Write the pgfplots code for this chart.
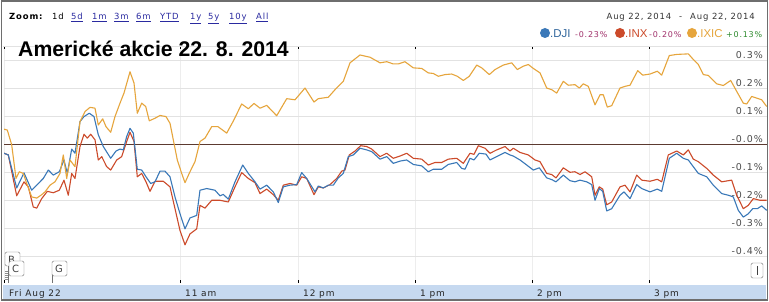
\documentclass[border=0pt]{standalone}
\usepackage{fontspec}
\setmainfont{DejaVu Sans}
\newfontfamily\lblfont[LetterSpace=10]{DejaVu Sans}
\newfontfamily\titlefont{Liberation Sans}
\newfontfamily\legfont{Liberation Sans}
\usepackage{pgfplots}
\pgfplotsset{compat=1.18}
\usepackage{pgfplotstable}
\definecolor{dji}{HTML}{3A78B8}
\definecolor{inx}{HTML}{CC4A2A}
\definecolor{ixic}{HTML}{E6A53C}
\definecolor{band}{HTML}{C6D9F0}
\definecolor{zeroline}{HTML}{5C3A30}
\definecolor{gridc}{HTML}{E2E2E2}
\definecolor{linkc}{HTML}{2A2AA0}
\definecolor{chg}{HTML}{A0306A}
\definecolor{chgup}{HTML}{2E8B2E}
\definecolor{framec}{HTML}{6E6E6E}

% x = position along the trading day (pixel scale, 9:30 at 4, 4 pm at 767), y = change in %
\pgfplotstableread{
x y
4 -0.032
8.3 -0.038
16.7 -0.156
24 -0.102
31.7 -0.164
38.3 -0.140
43.3 -0.122
48.3 -0.092
53.3 -0.110
59.3 -0.098
64 -0.056
67.3 -0.104
71.7 -0.017
75 -0.032
80 0.081
84 0.099
89.3 0.111
94 0.099
98.3 0.034
103.3 -0.008
110.7 -0.050
116 -0.024
120 -0.017
123.3 -0.020
126.7 0.028
130 0.057
133.3 0.040
137.3 -0.089
141.7 -0.092
146 -0.116
150.7 -0.140
155 -0.134
160 -0.096
165 -0.096
170 -0.116
175 -0.188
180 -0.248
185 -0.302
190 -0.263
196.7 -0.254
200 -0.164
206.7 -0.158
215 -0.164
220 -0.184
223.3 -0.179
228.3 -0.196
235 -0.134
242.7 -0.074
248.3 -0.104
255 -0.134
260 -0.160
266.7 -0.146
273.3 -0.170
278.3 -0.208
283.3 -0.152
290 -0.146
296.7 -0.144
301.7 -0.101
306.7 -0.122
315 -0.170
318.3 -0.149
323.3 -0.156
328.3 -0.146
333.3 -0.146
338.3 -0.120
343.3 -0.104
348.3 -0.044
353.3 -0.038
360 -0.014
366.7 -0.020
371.7 -0.026
380 -0.053
386.7 -0.044
393.3 -0.068
400 -0.060
406.7 -0.056
413.3 -0.072
421.7 -0.077
428.3 -0.098
433.3 -0.089
441.7 -0.089
448.3 -0.072
456.7 -0.065
461.7 -0.086
465 -0.089
470 -0.050
474 -0.056
479.3 -0.032
486 -0.035
490 -0.056
498.3 -0.041
505 -0.029
510 -0.038
513.3 -0.042
520 -0.056
526.7 -0.074
533.3 -0.092
539.3 -0.084
546.7 -0.120
551.7 -0.126
556 -0.134
563.3 -0.110
570 -0.130
575 -0.134
580 -0.128
586.7 -0.134
591.7 -0.144
595 -0.200
599.3 -0.158
602.7 -0.168
606.7 -0.238
611.7 -0.230
620 -0.182
624 -0.170
630 -0.194
636.7 -0.144
641.7 -0.158
650 -0.170
657.3 -0.160
661.7 -0.168
669.3 -0.050
676.7 -0.032
683.3 -0.050
688.3 -0.056
693.3 -0.080
698.3 -0.104
706.7 -0.116
713.3 -0.146
721.7 -0.176
728.3 -0.182
733.3 -0.188
738.3 -0.236
743.3 -0.260
748.3 -0.248
752.7 -0.230
757.3 -0.230
761.7 -0.220
766.7 -0.236
}\djitable

\pgfplotstableread{
x y
4 -0.032
8.3 -0.038
16.7 -0.184
24 -0.134
28.3 -0.152
33.3 -0.224
36.7 -0.228
41.7 -0.194
47.3 -0.168
53.3 -0.173
59.3 -0.164
64 -0.128
68.3 -0.182
71.7 -0.104
75 -0.122
80 -0.008
84 0.036
87.3 0.022
90.7 0.036
95 0.016
98.3 -0.056
101.7 -0.044
106.7 -0.080
110.7 -0.092
116.7 -0.056
121.7 -0.044
126.7 0.010
130 0.043
134 0.010
137.3 -0.116
141.7 -0.104
146 -0.134
150 -0.168
155 -0.132
163.3 -0.132
170 -0.152
175 -0.230
180 -0.308
185 -0.359
190 -0.320
196.7 -0.302
200 -0.218
205 -0.228
211.7 -0.200
220 -0.200
228.3 -0.206
235 -0.152
241.7 -0.101
248.3 -0.122
255 -0.137
260 -0.176
266.7 -0.160
273.3 -0.180
278.3 -0.200
283.3 -0.146
290 -0.140
296.7 -0.146
301.7 -0.116
306.7 -0.122
314 -0.180
318.3 -0.152
323.3 -0.156
330 -0.144
336.7 -0.122
341.7 -0.096
345 -0.092
349.3 -0.038
355 -0.024
360.7 -0.005
366.7 -0.008
371.7 -0.017
380 -0.044
386.7 -0.032
393.3 -0.050
400 -0.042
406.7 -0.032
413.3 -0.050
421.7 -0.053
428.3 -0.074
435 -0.065
441.7 -0.065
448.3 -0.053
456.7 -0.050
463.3 -0.068
470 -0.032
474 -0.036
478.3 -0.005
485 -0.014
490 -0.032
496.7 -0.020
505 -0.008
510 -0.024
513.3 -0.014
520 -0.029
528.3 -0.038
535 -0.056
540 -0.062
546.7 -0.104
551.7 -0.108
556 -0.120
563.3 -0.084
570 -0.100
575 -0.098
580 -0.108
585 -0.098
591.7 -0.116
595 -0.182
599.3 -0.152
602.7 -0.160
606.7 -0.216
611.7 -0.206
620 -0.152
625 -0.146
630 -0.170
636.7 -0.110
641.7 -0.128
650 -0.132
657.3 -0.125
661.7 -0.134
668.3 -0.038
676.7 -0.024
683.3 -0.038
688.3 -0.020
693.3 -0.053
698.3 -0.062
706.7 -0.086
713.3 -0.110
721.7 -0.134
731.7 -0.128
736.7 -0.182
743.3 -0.230
748.3 -0.218
753.3 -0.194
760 -0.200
766.7 -0.200
}\inxtable

\pgfplotstableread{
x y
4 0.054
7.3 0.051
11.7 -0.002
16 -0.122
19.3 -0.098
23.3 -0.104
26.7 -0.140
31.7 -0.188
36.7 -0.192
41.7 -0.180
45 -0.170
50 -0.146
55 -0.134
60 -0.104
63.3 -0.038
66.7 -0.122
70 -0.056
75 -0.080
80 0.081
85 0.117
90 0.132
95 0.129
98.3 0.069
102.7 0.091
106 0.063
110.7 0.043
115 0.099
120 0.147
124 0.183
130 0.259
134 0.219
137.3 0.111
141.7 0.147
145.7 0.135
149.3 0.084
155 0.093
160 0.103
166 0.099
170 0.075
173.3 0.016
177.3 -0.056
181.7 -0.104
185 -0.137
190 -0.098
195 -0.062
200 0.010
205 0.022
211.7 0.063
218 0.063
226.7 0.040
233 0.081
241.7 0.144
248.3 0.127
254 0.146
260 0.129
266.7 0.139
276.7 0.102
286.7 0.163
295 0.159
305 0.201
314 0.151
318.3 0.163
328.3 0.168
335 0.195
343.3 0.225
350 0.291
360 0.319
370 0.311
380 0.291
386.7 0.295
393.3 0.287
398.3 0.287
405 0.295
413.3 0.273
421.7 0.271
428.3 0.255
433.3 0.253
438.3 0.243
445 0.249
451.7 0.251
457.3 0.243
463.3 0.228
469.3 0.243
476.7 0.283
481.7 0.273
489.3 0.249
495 0.267
503.3 0.283
511.7 0.291
517.3 0.267
523.3 0.279
528.3 0.285
533.3 0.271
540 0.255
546.7 0.201
551.7 0.195
556.7 0.183
563.3 0.225
568.3 0.211
575 0.213
579.3 0.201
583.3 0.216
588.3 0.207
595 0.141
600 0.177
603.3 0.177
607.3 0.133
611.7 0.138
620 0.201
625 0.207
630 0.211
637.7 0.263
642.7 0.247
650 0.251
657.3 0.261
661.7 0.247
669.3 0.317
676.7 0.321
688.3 0.323
693.3 0.303
698.3 0.285
703.3 0.249
708.3 0.246
716.7 0.216
723.3 0.210
730.7 0.228
736.7 0.189
743.3 0.147
746.7 0.144
751.7 0.171
756.7 0.165
761.7 0.159
766.7 0.135
}\ixictable

\begin{document}
\begin{tikzpicture}
\useasboundingbox (0,0) rectangle (769bp,302bp);
% image coordinates: x right, y down, in px
\begin{scope}[x=1bp,y=-1bp,yshift=302bp]
  \fill[white] (0,0) rectangle (769,302);
  \fill[band] (3,285) rectangle (766,299);
\end{scope}

\begin{axis}[
  at={(4bp,19bp)}, anchor=south west,
  scale only axis, width=763bp, height=237bp,
  xmin=4, xmax=767, ymin=-0.4954, ymax=0.3511,
  axis line style={draw=none},
  xtick={4,180,298,415,532,649},
  xticklabels={Fri Aug 22,11 am,12 pm,1 pm,2 pm,3 pm},
  xticklabel style={anchor=base west, inner sep=0pt, xshift=5bp, yshift=-13bp,
    font=\lblfont\fontsize{9}{10}\selectfont, text=black!85},
  ytick={-0.4,-0.3,-0.2,-0.1,0,0.1,0.2,0.3},
  yticklabels={-0.4\%,-0.3\%,-0.2\%,-0.1\%,-0.0\%,0.1\%,0.2\%,0.3\%},
  yticklabel pos=right,
  yticklabel style={anchor=south east, inner sep=0pt, xshift=-4bp, yshift=1.5bp,
    font=\lblfont\fontsize{9.5}{10}\selectfont, text=black!70},
  ytick style={draw=none},
  xtick style={draw=black, line width=1bp},
  major tick length=3bp, tick align=inside,
  xmajorgrids, ymajorgrids,
  x grid style={draw=black!7, line width=0.8bp},
  y grid style={draw=gridc, line width=0.8bp},
  clip=true,
  every axis plot/.append style={line width=1.1bp, line join=round},
]
\draw[zeroline, line width=1.2bp] (axis cs:4,0) -- (axis cs:767,0);
\addplot[no marks, inx] table[x=x,y=y]{\inxtable};
\addplot[no marks, dji] table[x=x,y=y]{\djitable};
\addplot[no marks, ixic] table[x=x,y=y]{\ixictable};
\end{axis}

\begin{scope}[x=1bp,y=-1bp,yshift=302bp]
  % top line of plot area
  \draw[gridc, line width=0.8bp] (3,46) -- (767,46);
  % header row
  \node[anchor=base west, inner sep=0pt, font=\lblfont\bfseries\fontsize{8.5}{10}\selectfont] at (9,20) {Zoom:};
  \node[anchor=base west, inner sep=0pt, font=\lblfont\fontsize{8.5}{10}\selectfont] at (52,20) {1d};
  \foreach \xx/\tt in {71/5d,92/1m,114/3m,136/6m,160/YTD,190/1y,208/5y,229/10y,256/All}{
    \node[anchor=base west, inner sep=0pt, text=linkc, font=\lblfont\fontsize{8.5}{10}\selectfont] at (\xx,20) {\underline{\tt}};
  }
  \node[anchor=base east, inner sep=0pt, text=black!80, font=\lblfont\fontsize{8.5}{10}\selectfont] at (755,20) {Aug 22, 2014\hspace{8bp}-\hspace{8bp}Aug 22, 2014};
  % legend row
  \fill[dji] (545,33) circle (5);
  \fill[inx] (620,33) circle (5);
  \fill[ixic] (692,33) circle (5);
  \node[anchor=base west, inner sep=0pt, text=dji!85!black, font=\legfont\fontsize{11.5}{12}\selectfont] at (550,37.5) {.DJI};
  \node[anchor=base west, inner sep=0pt, text=chg, font=\lblfont\fontsize{8}{10}\selectfont] at (575,37.5) {-0.23\%};
  \node[anchor=base west, inner sep=0pt, text=inx, font=\legfont\fontsize{11.5}{12}\selectfont] at (625,37.5) {.INX};
  \node[anchor=base west, inner sep=0pt, text=chg, font=\lblfont\fontsize{8}{10}\selectfont] at (649,37.5) {-0.20\%};
  \node[anchor=base west, inner sep=0pt, text=ixic, font=\legfont\fontsize{11.5}{12}\selectfont] at (697,37.5) {.IXIC};
  \node[anchor=base west, inner sep=0pt, text=chgup, font=\lblfont\fontsize{8}{10}\selectfont] at (726,37.5) {+0.13\%};
  % title
  \node[anchor=base west, inner sep=0pt, font=\titlefont\bfseries\fontsize{21.3}{24}\selectfont] at (18,57) {Americké akcie 22. 8. 2014};
  % event flags
  \draw[black!55, line width=0.6bp] (8.5,262) -- (8.5,283);
  \draw[black!55, line width=0.6bp] (52,262) -- (52,283);
  \foreach \yy in {271,273,275,277,279}{\draw[black!45, line width=0.4bp] (5,\yy) -- (8,\yy);}
  \draw[black!55, fill=white, rounded corners=1.5bp] (5,252) rectangle (20,266);
  \node[anchor=base west, inner sep=0pt, text=black!75, font=\lblfont\fontsize{10}{10}\selectfont] at (8,264) {B};
  \draw[black!55, fill=white, rounded corners=1.5bp] (9,261) rectangle (24,276);
  \node[anchor=base west, inner sep=0pt, text=black!75, font=\lblfont\fontsize{10}{10}\selectfont] at (12,273) {C};
  \draw[black!55, fill=white, rounded corners=1.5bp] (52,261) rectangle (67,276);
  \node[anchor=base west, inner sep=0pt, text=black!75, font=\lblfont\fontsize{10}{10}\selectfont] at (55,273) {G};
  \draw[black!55, fill=white, rounded corners=1.5bp] (751,263) rectangle (763,278);
  \draw[black!75, line width=0.8bp] (757,266) -- (757,275);
  % outer frame
  \draw[framec, line width=1.2bp] (1.5,1) rectangle (767.5,300);
\end{scope}
\end{tikzpicture}
\end{document}
